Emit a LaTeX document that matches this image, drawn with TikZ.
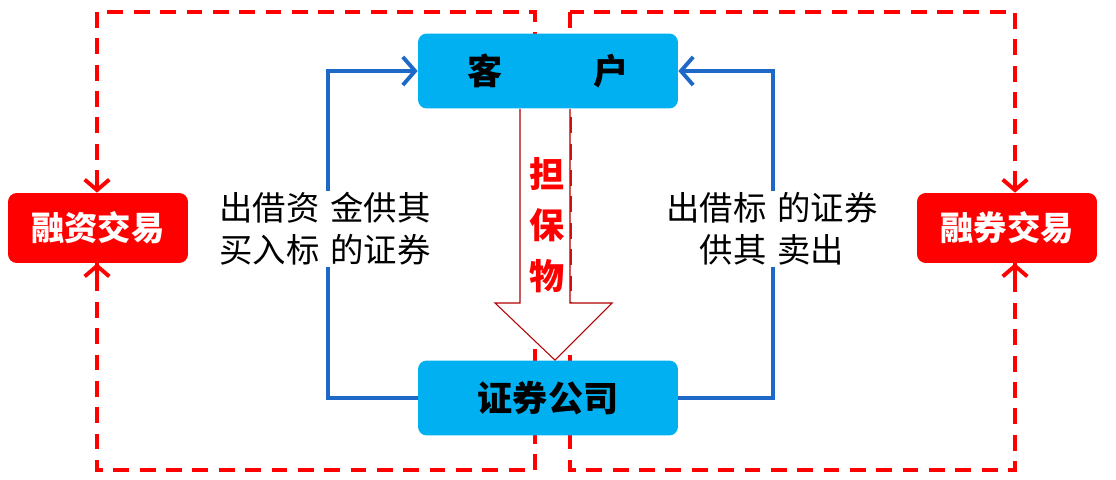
\documentclass[tikz,border=0pt]{standalone}
\usepackage{fontspec}
\usetikzlibrary{arrows.meta}
\newfontfamily\cjk{Noto Sans CJK SC}
\definecolor{boxblue}{RGB}{0,176,240}
\definecolor{flowblue}{RGB}{30,105,200}
\begin{document}
\begin{tikzpicture}[x=0.02cm,y=-0.02cm,
    redbox/.style={rectangle,rounded corners=5pt,fill=red,text=white,minimum width=3.6cm,minimum height=1.4cm,font=\cjk\bfseries\fontsize{19}{19}\selectfont},
    bluebox/.style={rectangle,rounded corners=5pt,fill=boxblue,minimum width=5.2cm,minimum height=1.5cm,font=\cjk\bfseries\fontsize{20}{20}\selectfont},
    flow/.style={draw=flowblue,line width=2.2pt},
    tick/.style={red,line width=2.2pt,-{Straight Barb[length=6pt,width=14pt]}},
    side/.style={draw=red,line width=2.2pt,dash pattern=on 9pt off 6pt}]
    \useasboundingbox (0,0) rectangle (1116,480);
    % dashed regions
    \draw[side] (97,12) rectangle (535,470);
    \draw[side] (570,12) rectangle (1015,470);
    \node[redbox] (rz) at (98,228) {融资交易};
    \node[redbox] (rq) at (1007,228) {融券交易};
    \node[bluebox] (kh) at (548,71) {客\hspace{2.6em}户};
    \node[bluebox] (zq) at (548,398) {证券公司};
    \coordinate (lx) at (97,0);
    \coordinate (rx) at (1015,0);
    \coordinate (ax) at (520,0);
    \coordinate (bx) at (570,0);
    \coordinate (cx) at (555,0);
    % arrow ticks on the dashed lines
    \draw[tick] (97,175) -- (rz.north -| lx);
    \draw[tick] (97,285) -- (rz.south -| lx);
    \draw[tick] (1015,175) -- (rq.north -| rx);
    \draw[tick] (1015,285) -- (rq.south -| rx);
    % flows
    \draw[flow,-{Straight Barb[length=7pt,width=16pt]}] (zq.west) -- (328,398) -- (328,71) -- (kh.west);
    \draw[flow,-{Straight Barb[length=7pt,width=16pt]}] (zq.east) -- (773,398) -- (773,71) -- (kh.east);
    \node[fill=white,inner sep=1pt,align=center,font=\cjk\fontsize{19}{24}\selectfont] (lt) at (325,229) {出借资\,\,金供其\\买入标\,\,的证券};
    \node[fill=white,inner sep=1pt,align=center,font=\cjk\fontsize{19}{24}\selectfont] (rt) at (772,229) {出借标\,\,的证券\\供其\,\,卖出};
    % collateral arrow
    \draw[draw=red!70!black,fill=white,line width=0.6pt] (kh.south -| ax) -- (520,303) -- (495,303) -- (zq.north -| cx) -- (612,303) -- (570,303) -- (kh.south -| bx);
    \node[text=red,align=center,font=\cjk\bfseries\fontsize{20}{29}\selectfont] (db) at (547,225) {担\\保\\物};
\end{tikzpicture}
\end{document}
